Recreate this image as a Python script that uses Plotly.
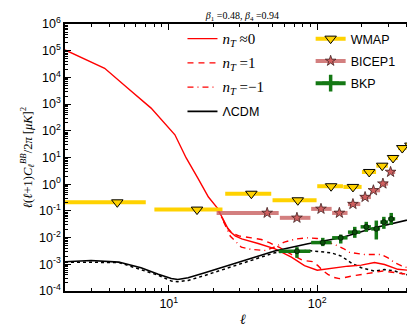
import numpy as np
import plotly.graph_objects as go

# theory curves: ell and l(l+1)C_l/2pi
ell_nt0 = [2, 3.7, 5.3, 7.6, 11, 13.1, 15.7, 18.5, 21.2, 23.8, 25.5, 28, 31, 40, 52, 67, 82,
           100, 124, 161, 198, 243, 284, 349, 408, 499]
cl_nt0 = [1.07e5, 2.2e4, 3.95e3, 708, 71, 9.6, 1.7, 0.33, 0.13, 0.0356, 0.0178, 0.0117, 0.0089,
          0.0060, 0.0038, 0.00186, 8.9e-4, 6.0e-4, 7.1e-4, 8.5e-4, 9.3e-4, 1.17e-3, 9.8e-4,
          6.5e-4, 6.0e-4, 4.5e-4]

ell_nt1 = [21.2, 24.5, 27, 30, 36, 42, 48, 56, 67, 80, 93, 101, 110, 118, 130, 141, 169, 198,
           240, 277, 340, 408, 488, 500]
cl_nt1 = [0.13, 0.025, 0.0141, 0.0114, 0.0098, 0.0085, 0.0063, 0.0042, 0.00234, 0.0014, 0.00126,
          8.9e-4, 5.6e-4, 4.2e-4, 3.2e-4, 2.9e-4, 3.6e-4, 4.2e-4, 5.2e-4, 5.6e-4, 4.8e-4, 4.2e-4,
          3.2e-4, 3.0e-4]

ell_ntm1 = [21.2, 23.5, 26, 30.8, 36, 45, 52, 60, 72, 86.5, 100, 115, 131, 150, 165, 208, 269,
            300, 332, 370, 408, 475, 500]
cl_ntm1 = [0.13, 0.0355, 0.0112, 0.0044, 0.0036, 0.0033, 0.0045, 0.0068, 0.0089, 0.0098, 0.0093,
           0.0071, 0.0055, 0.0039, 0.0028, 0.00233, 0.00233, 0.00174, 0.00115, 8.7e-4, 7.4e-4,
           6.5e-4, 6.3e-4]

ell_lcdm = [2, 3, 4.6, 6.5, 8.5, 10.4, 11.5, 13.5, 17.5, 22.6, 29.2, 51.7, 86.5, 145, 243, 408, 500]
cl_lcdm = [1.24e-3, 1.39e-3, 1.21e-3, 7.4e-4, 4.2e-4, 2.96e-4, 2.7e-4, 3.14e-4, 4.83e-4, 7.4e-4,
           1.21e-3, 3.13e-3, 5.85e-3, 9.8e-3, 0.0232, 0.0474, 0.0598]

ell_dot = [2, 4.6, 8.5, 10.4, 11.5, 13.5, 17.5, 22.6, 29.2, 51.7, 86.5, 124, 145, 169, 198, 243,
           284, 332, 388, 475, 500]
cl_dot = [1.2e-3, 1.17e-3, 3.9e-4, 2.36e-4, 2.22e-4, 2.49e-4, 3.83e-4, 6.1e-4, 9.4e-4, 2.7e-3,
          3.3e-3, 2.7e-3, 2.03e-3, 1.14e-3, 7.4e-4, 5.6e-4, 6.4e-4, 5.6e-4, 4.2e-4, 3.6e-4, 3.4e-4]

# data points
wmap_l = [4.5, 15.5, 36, 74, 124, 174, 224, 274, 324, 374, 424, 474]
wmap_lo = [2, 8, 24, 50, 100, 150, 200, 250, 300, 350, 400, 450]
wmap_hi = [7, 23, 49, 99, 149, 199, 249, 299, 349, 399, 449, 499]
wmap_val = [0.21, 0.112, 0.44, 0.25, 0.84, 0.79, 2.87, 4.94, 9.6, 22.6, 28, 34.8]

b1_l = [46, 73, 106, 141, 174, 210, 239, 277, 312]
b1_lo = [21, 56, 91, 126, 161, 196, 231, 266, 301]
b1_hi = [55, 90, 125, 160, 195, 230, 265, 300, 335]
b1_val = [0.084, 0.055, 0.119, 0.084, 0.18, 0.33, 0.59, 1.05, 2.87]

bkp_l = [73, 109, 144, 179, 214, 250, 281, 315]
bkp_lo = [55, 91, 126, 161, 196, 231, 266, 301]
bkp_hi = [90, 125, 160, 195, 230, 265, 300, 335]
bkp_val = [0.0031, 0.0065, 0.0098, 0.016, 0.0253, 0.0213, 0.038, 0.050]
bkp_up = [0.0044, 0.0098, 0.0130, 0.0253, 0.039, 0.0435, 0.060, 0.084]
bkp_dn = [0.00175, 0.0048, 0.0060, 0.0098, 0.0164, 0.0085, 0.0213, 0.030]

ytick_vals = [1e-4, 1e-3, 1e-2, 1e-1, 1, 10, 100, 1e3, 1e4, 1e5, 1e6]
ytick_text = ["10<sup>-4</sup>", "10<sup>-3</sup>", "10<sup>-2</sup>", "10<sup>-1</sup>",
              "10<sup>0</sup>", "10<sup>1</sup>", "10<sup>2</sup>", "10<sup>3</sup>",
              "10<sup>4</sup>", "10<sup>5</sup>", "10<sup>6</sup>"]
xtick_vals = [10, 100]
xtick_text = ["10<sup>1</sup>", "10<sup>2</sup>"]

GOLD = "#FFD200"
ROSE = "rgba(200,95,95,0.8)"
GREEN = "#147814"
SERIF = "Liberation Serif"
SANS = "Liberation Sans"


def xerr(c, lo, hi):
    c = np.array(c, float)
    return dict(type="data", symmetric=False, array=list(np.array(hi) - c),
                arrayminus=list(c - np.array(lo)), width=0)


def nt(s):
    return ("<span style='font-family:Liberation Serif;font-size:15px'>"
            "<i>n</i><sub><i>T</i></sub> " + s + "</span>")


fig = go.Figure()

fig.add_trace(go.Scatter(x=ell_dot, y=cl_dot, mode="lines", showlegend=False,
                         line=dict(color="black", width=1.5, dash="dot")))
fig.add_trace(go.Scatter(x=ell_nt0, y=cl_nt0, mode="lines", name=nt("≈0"), legendgroup="a",
                         line=dict(color="#ff0000", width=1.4)))
fig.add_trace(go.Scatter(x=ell_nt1, y=cl_nt1, mode="lines", name=nt("=1"), legendgroup="b",
                         line=dict(color="#ff0000", width=1.4, dash="6px,5px")))
fig.add_trace(go.Scatter(x=ell_ntm1, y=cl_ntm1, mode="lines", name=nt("=−1"), legendgroup="c",
                         line=dict(color="#ff0000", width=1.4, dash="6px,4px,1px,4px")))
fig.add_trace(go.Scatter(x=ell_lcdm, y=cl_lcdm, mode="lines", name="ΛCDM", legendgroup="d",
                         line=dict(color="black", width=1.6)))

# WMAP
fig.add_trace(go.Scatter(x=wmap_l, y=wmap_val, mode="markers", showlegend=False,
                         error_x=dict(xerr(wmap_l, wmap_lo, wmap_hi), color=GOLD, thickness=4),
                         marker=dict(symbol="triangle-down", size=10, color=GOLD,
                                     line=dict(color="black", width=1))))
# BICEP1
fig.add_trace(go.Scatter(x=b1_l, y=b1_val, mode="markers", showlegend=False,
                         error_x=dict(xerr(b1_l, b1_lo, b1_hi), color=ROSE, thickness=4),
                         marker=dict(symbol="star", size=8, color="#d06060",
                                     line=dict(color="#402020", width=0.8))))
# BKP
bv = np.array(bkp_val)
fig.add_trace(go.Scatter(x=bkp_l, y=bkp_val, mode="markers", showlegend=False,
                         error_x=dict(xerr(bkp_l, bkp_lo, bkp_hi), color=GREEN, thickness=3.5),
                         error_y=dict(type="data", symmetric=False,
                                      array=list(np.array(bkp_up) - bv),
                                      arrayminus=list(bv - np.array(bkp_dn)),
                                      color=GREEN, thickness=3.5, width=0),
                         marker=dict(symbol="circle", size=5, color="#0a500a",
                                     line=dict(color="black", width=0.6))))

# legend entries for the data sets
fig.add_trace(go.Scatter(x=[None], y=[None], mode="lines+markers", name="WMAP", legend="legend2",
                         legendgroup="e", line=dict(color=GOLD, width=4),
                         marker=dict(symbol="triangle-down", size=10, color=GOLD,
                                     line=dict(color="black", width=1))))
fig.add_trace(go.Scatter(x=[None], y=[None], mode="lines+markers", name="BICEP1", legend="legend2",
                         legendgroup="f", line=dict(color=ROSE, width=4),
                         marker=dict(symbol="star", size=8, color="#d06060",
                                     line=dict(color="#402020", width=0.8))))
fig.add_trace(go.Scatter(x=[None], y=[None], mode="lines+markers", name="BKP", legend="legend2",
                         legendgroup="g", line=dict(color=GREEN, width=4),
                         marker=dict(symbol="cross-thin", size=12, color=GREEN,
                                     line=dict(color=GREEN, width=3.5))))

minor_x = [m * 10 ** d for d in range(0, 3) for m in range(2, 10)]
minor_y = [m * 10.0 ** d for d in range(-4, 6) for m in range(2, 10)]

axis_common = dict(showline=True, linecolor="black", linewidth=1.5, mirror="allticks",
                   ticks="inside", ticklen=6, tickwidth=1, tickcolor="black",
                   showgrid=False, zeroline=False, automargin=False,
                   tickfont=dict(family=SANS, size=12.5, color="black"))

fig.update_xaxes(type="log", range=[np.log10(2), np.log10(500)],
                 tickvals=xtick_vals, ticktext=xtick_text,
                 minor=dict(tickvals=minor_x, ticks="inside", ticklen=3, tickcolor="black"),
                 title=dict(text="<i>ℓ</i>", font=dict(family=SERIF, size=14, color="black"),
                            standoff=4),
                 **axis_common)
fig.update_yaxes(type="log", range=[-4, 6],
                 tickvals=ytick_vals, ticktext=ytick_text,
                 minor=dict(tickvals=minor_y, ticks="inside", ticklen=3, tickcolor="black"),
                 title=dict(text="<i>ℓ</i>(<i>ℓ</i>+1)<i>C</i><sub><i>ℓ</i></sub><sup><i>BB</i></sup>"
                                 "/2<i>π</i> [<i>μK</i>]<sup>2</sup>",
                            font=dict(family=SERIF, size=12.5, color="black"), standoff=4),
                 **axis_common)

fig.update_layout(
    template="none",
    width=415, height=325,
    margin=dict(l=57, r=2, t=16, b=42, autoexpand=False),
    paper_bgcolor="white", plot_bgcolor="white",
    title=dict(text="<i>β</i><sub>1</sub> =0.48, <i>β</i><sub>4</sub> =0.94",
               font=dict(family=SERIF, size=10, color="black"),
               x=0.565, xanchor="center", y=0.978, yanchor="middle"),
    legend=dict(x=0.33, y=1.0, xanchor="left", yanchor="top", bgcolor="rgba(0,0,0,0)",
                font=dict(family=SANS, size=12.5, color="black"), tracegroupgap=5,
                itemwidth=30),
    legend2=dict(x=0.69, y=1.0, xanchor="left", yanchor="top", bgcolor="rgba(0,0,0,0)",
                 font=dict(family=SANS, size=12.5, color="black"), tracegroupgap=3,
                 itemwidth=30),
)

fig.write_html("out.html")
